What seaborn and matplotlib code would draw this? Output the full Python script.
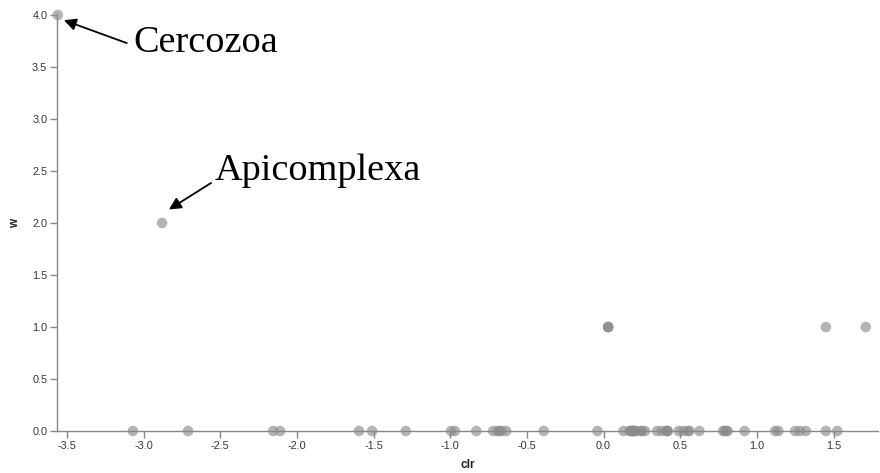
import numpy as np
import pandas as pd
import matplotlib
matplotlib.use("Agg")
import matplotlib.pyplot as plt
import seaborn as sns

# clr values, grouped by w
clr_w0 = [-3.07, -2.71, -2.155, -2.11, -1.595, -1.51, -1.29, -0.995, -0.97,
          -0.83, -0.72, -0.69, -0.68, -0.665, -0.635, -0.39, -0.04, 0.13, 0.17,
          0.18, 0.185, 0.19, 0.19, 0.195, 0.20, 0.21, 0.24, 0.25, 0.27, 0.35,
          0.38, 0.41, 0.415, 0.42, 0.49, 0.52, 0.55, 0.56, 0.625, 0.78, 0.79,
          0.80, 0.81, 0.92, 1.12, 1.14, 1.25, 1.28, 1.32, 1.45, 1.525]
clr_w1 = [0.03, 0.03, 0.03, 1.45, 1.71]
clr_w2 = [-2.88]
clr_w4 = [-3.56]

labels = ["Cercozoa", "Apicomplexa"]

df = pd.DataFrame({
    "clr": clr_w0 + clr_w1 + clr_w2 + clr_w4,
    "w": [0] * len(clr_w0) + [1] * len(clr_w1) + [2] * len(clr_w2) + [4] * len(clr_w4),
})

sns.set_theme(style="white")
plt.rcParams['font.family'] = ['Liberation Sans', 'DejaVu Sans']

fig = plt.figure(figsize=(8.8, 4.73), dpi=100)
ax = fig.add_axes([57 / 880, 42 / 473, 821 / 880, 416 / 473])

sns.scatterplot(data=df, x="clr", y="w", ax=ax, color="#8c8c8c", alpha=0.65,
                s=58, edgecolor="none", clip_on=False)

ax.set_xlim(-3.565, 1.79)
ax.set_ylim(0, 4)
ax.set_xticks(np.arange(-3.5, 1.51, 0.5))
ax.set_yticks(np.arange(0, 4.01, 0.5))
ax.xaxis.set_major_formatter(matplotlib.ticker.FormatStrFormatter('%.1f'))
ax.yaxis.set_major_formatter(matplotlib.ticker.FormatStrFormatter('%.1f'))

for side in ["top", "right"]:
    ax.spines[side].set_visible(False)
for side in ["left", "bottom"]:
    ax.spines[side].set_color("#888888")
    ax.spines[side].set_linewidth(1)
ax.tick_params(axis="both", which="major", length=5, width=1, color="#888888",
               labelsize=7.8, labelcolor="#333333", direction="out", pad=2,
               bottom=True, left=True)

ax.set_xlabel("clr", fontsize=8.5, fontweight="bold", color="#222222", labelpad=6)
ax.set_ylabel("w", fontsize=8.5, fontweight="bold", color="#222222", labelpad=8)

# annotations: text and arrow drawn separately
arrow = dict(arrowstyle="-|>", color="black", lw=1.3, mutation_scale=18,
             shrinkA=0, shrinkB=0)

ax.text(-3.07, 3.645, labels[0], fontsize=27.5, family="Liberation Serif",
        color="black", ha="left", va="baseline")
ax.annotate("", xy=(-3.52, 3.95), xytext=(-3.11, 3.73), arrowprops=arrow)

ax.text(-2.535, 2.41, labels[1], fontsize=27.5, family="Liberation Serif",
        color="black", ha="left", va="baseline")
ax.annotate("", xy=(-2.835, 2.13), xytext=(-2.56, 2.385), arrowprops=arrow)

fig.savefig("out.png", dpi=100)
